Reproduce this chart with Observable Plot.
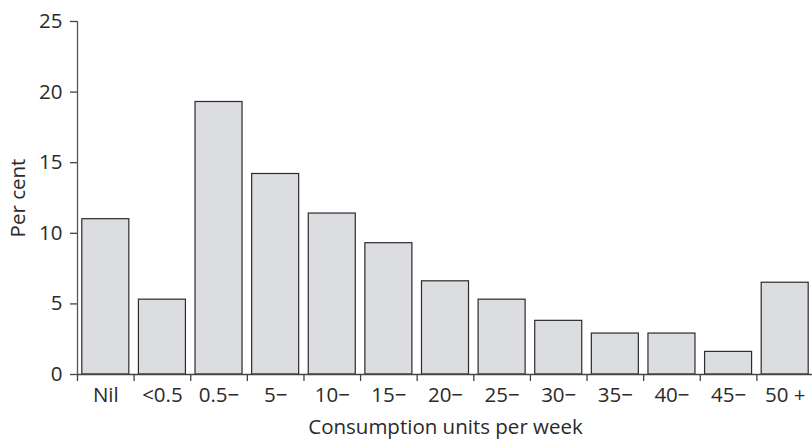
<!DOCTYPE html>
<html><head><meta charset="utf-8">
<script src="https://cdn.jsdelivr.net/npm/d3@7"></script>
<script src="https://cdn.jsdelivr.net/npm/@observablehq/plot@0.6"></script>
<style>body{margin:0;background:#fff}</style>
</head><body><div id="chart"></div>
<script>
const categories = ["Nil", "<0.5", "0.5−", "5−", "10−", "15−", "20−", "25−", "30−", "35−", "40−", "45−", "50 +"];
const percents = [11.0, 5.3, 19.3, 14.2, 11.4, 9.3, 6.6, 5.3, 3.8, 2.9, 2.9, 1.6, 6.5];
const yTicks = [0, 5, 10, 15, 20, 25];
const xLabel = "Consumption units per week";
const yLabel = "Per cent";

const data = categories.map((c, i) => ({category: c, index: i, value: percents[i]}));
const boundaries = d3.range(categories.length + 1);
const centers = categories.map((c, i) => i + 0.5);

const chart = Plot.plot({
  width: 812, height: 439,
  marginLeft: 77, marginRight: -1, marginTop: 21, marginBottom: 65,
  style: {fontFamily: "'Open Sans', sans-serif", fontSize: "20.5px", color: "#2a2a2a", background: "#fff"},
  x: {type: "linear", domain: [0, categories.length]},
  y: {domain: [0, 25]},
  marks: [
    Plot.rectY(data, {x1: "index", x2: d => d.index + 1, y: "value", insetLeft: 4.8, insetRight: 4.8,
      fill: "#dcdde0", stroke: "#2b2b2b", strokeWidth: 1.2}),
    Plot.ruleY([0], {stroke: "#444", strokeWidth: 1.3}),
    Plot.ruleX([0], {stroke: "#555", strokeWidth: 1.3}),
    Plot.axisY({ticks: yTicks, tickSize: 7, tickPadding: 8, stroke: "#444", strokeWidth: 1.3,
      label: yLabel, labelAnchor: "center", labelOffset: 67, labelArrow: "none"}),
    Plot.axisX({ticks: boundaries, tickSize: 7, tickFormat: () => "", stroke: "#444", strokeWidth: 1.3, label: null}),
    Plot.axisX({ticks: centers, tickSize: 0, tickPadding: 13, tickFormat: v => categories[Math.round(v - 0.5)],
      label: xLabel, labelAnchor: "center", labelOffset: 59, labelArrow: "none"})
  ]
});
document.getElementById("chart").append(chart);
</script>
</body></html>
